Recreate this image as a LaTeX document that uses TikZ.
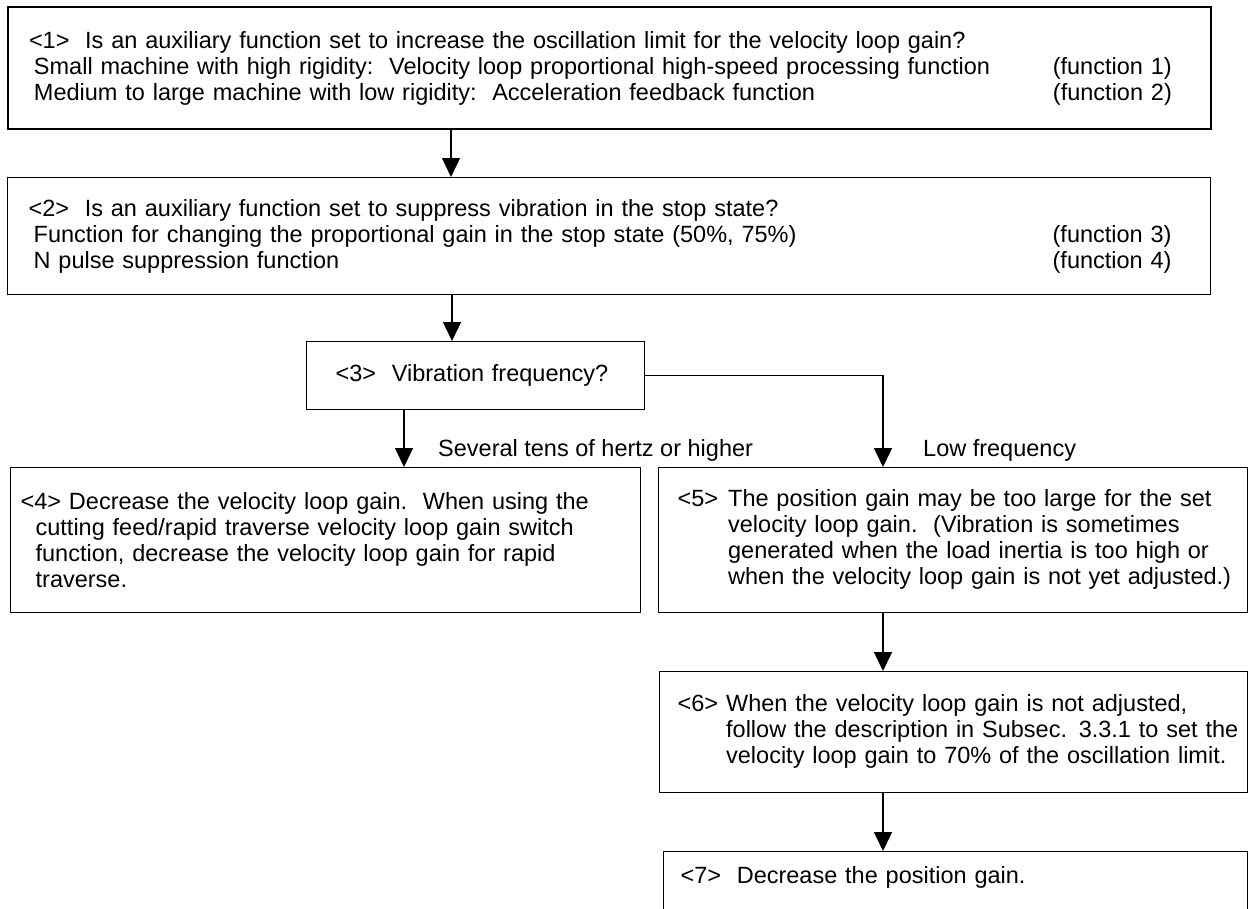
\documentclass[tikz,border=0pt]{standalone}
\usepackage{fontspec}
\setmainfont{Liberation Sans}
\usetikzlibrary{arrows.meta}
\begin{document}
\begin{tikzpicture}[x=1pt,y=-1pt,
  txt/.style={font=\fontsize{23.5pt}{26pt}\selectfont},
  box/.style={draw, line width=1.3pt, anchor=north west, align=left, inner ysep=0pt, txt},
  lbl/.style={inner sep=0pt, anchor=west, txt},
  arr/.style={line width=1.5pt, -{Triangle[length=19pt,width=18pt]}}]
\useasboundingbox (0,0) rectangle (1248,908);
\coordinate (a1) at (451,0);
\coordinate (a3) at (452,0);
\coordinate (a4) at (404,0);
\coordinate (a5) at (883,0);

\node[box, line width=2pt, minimum width=1203pt, minimum height=122pt, text width=1161pt, inner xsep=21pt] (b1) at (7,6)
{<1>\ \ Is an auxiliary function set to increase the oscillation limit for the velocity loop gain?\\
\hspace*{5pt}\makebox[1019pt][l]{Small machine with high rigidity:\ \ Velocity loop proportional high-speed processing function}(function 1)\\
\hspace*{5pt}\makebox[1019pt][l]{Medium to large machine with low rigidity:\ \ Acceleration feedback function}(function 2)};

\node[box, minimum width=1203pt, minimum height=117pt, text width=1161pt, inner xsep=21pt] (b2) at (7,177)
{<2>\ \ Is an auxiliary function set to suppress vibration in the stop state?\\
\hspace*{5pt}\makebox[1019pt][l]{Function for changing the proportional gain in the stop state (50\%, 75\%)}(function 3)\\
\hspace*{5pt}\makebox[1019pt][l]{N pulse suppression function}(function 4)};

\node[box, minimum width=338pt, minimum height=68pt, text width=280pt, inner xsep=29pt] (b3) at (306,341)
{<3>\ \ Vibration frequency?};

\node[box, minimum width=630pt, minimum height=145pt, text width=610pt, inner xsep=10pt] (b4) at (10,467)
{<4> Decrease the velocity loop gain.\ \ When using the\\
\hspace*{15pt}cutting feed/rapid traverse velocity loop gain switch\\
\hspace*{15pt}function, decrease the velocity loop gain for rapid\\
\hspace*{15pt}traverse.};

\node[box, minimum width=589pt, minimum height=145pt, text width=551pt, inner xsep=19pt] (b5) at (658,467)
{\begin{tabular}{@{}l@{\hspace{10pt}}l@{}}
<5> & The position gain may be too large for the set\\
 & velocity loop gain.\ \ (Vibration is sometimes\\
 & generated when the load inertia is too high or\\
 & when the velocity loop gain is not yet adjusted.)
\end{tabular}};

\node[box, minimum width=588pt, minimum height=121pt, text width=552pt, inner xsep=18pt] (b6) at (659,671)
{\begin{tabular}{@{}l@{\hspace{8pt}}l@{}}
<6> & When the velocity loop gain is not adjusted,\\
 & follow the description in Subsec. 3.3.1 to set the\\
 & velocity loop gain to 70\% of the oscillation limit.
\end{tabular}};

\node[box, minimum width=584pt, text width=550pt, inner xsep=17pt, inner ysep=15pt, text depth=70pt] (b7) at (663,851)
{<7>\ \ Decrease the position gain.};

\node[lbl] (l1) at (438,450) {Several tens of hertz or higher};
\node[lbl] (l2) at (923,450) {Low frequency};

\draw[arr] (b1.south -| a1) -- (b2.north -| a1);
\draw[arr] (b2.south -| a3) -- (b3.north -| a3);
\draw[arr] (b3.south -| a4) -- (b4.north -| a4);
\draw[arr] (b3.east) -| (b5.north -| a5);
\draw[arr] (b5.south -| a5) -- (b6.north -| a5);
\draw[arr] (b6.south -| a5) -- (b7.north -| a5);
\end{tikzpicture}
\end{document}
